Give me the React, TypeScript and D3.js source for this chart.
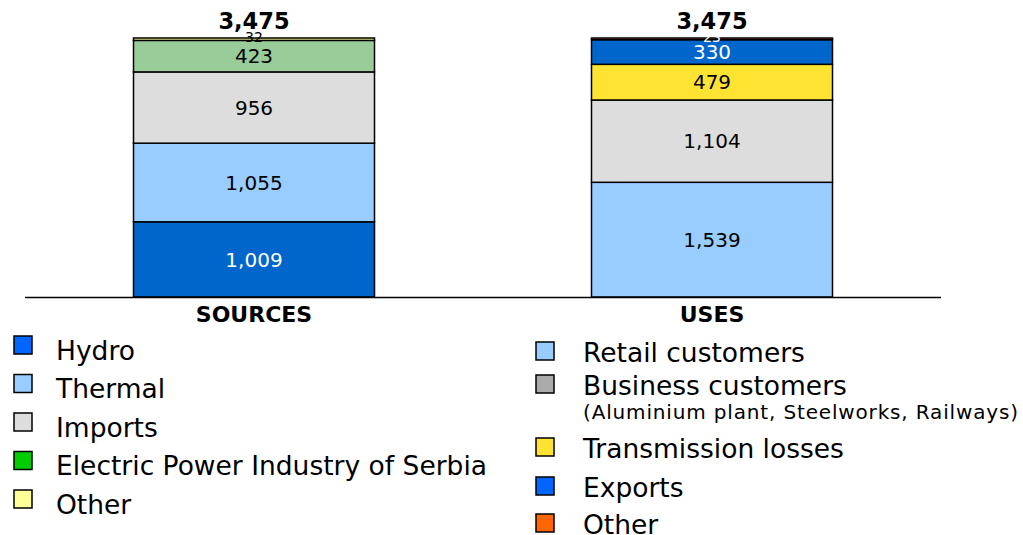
import React from 'react';
import * as d3 from 'd3';

// stacked bars, bottom to top
const categories = ['SOURCES', 'USES'];

const sourceNames = ['Hydro', 'Thermal', 'Imports', 'Electric Power Industry of Serbia', 'Other'];
const sourceValues = [1009, 1055, 956, 423, 32];
const sourceBarColors = ['#0066CC', '#99CCFF', '#DDDDDD', '#99CC99', '#FFFF99'];
const sourceLegendColors = ['#0066FF', '#99CCFF', '#DDDDDD', '#00CC00', '#FFFF99'];
const sourceLabelColors = ['#fff', '#000', '#000', '#000', '#000'];

const useNames = ['Retail customers', 'Business customers', 'Transmission losses', 'Exports', 'Other'];
const useValues = [1539, 1104, 479, 330, 23];
const useBarColors = ['#99CCFF', '#DDDDDD', '#FFE333', '#0066CC', '#FF6600'];
const useLegendColors = ['#99CCFF', '#AAAAAA', '#FFE333', '#0066FF', '#FF6600'];
const useLabelColors = ['#000', '#000', '#000', '#fff', '#fff'];

const totals = [3475, 3475];

const W = 1023;
const H = 535;
const FONT = 'DejaVu Sans, Verdana, sans-serif';

const fmt = d3.format(',');

const App = () => {
  const x = d3.scaleBand().domain(categories).range([25, 941]).padding(0);
  const y = d3.scaleLinear().domain([0, 3475]).range([297, 38]);
  const barW = 241;

  const stacks = [
    { values: sourceValues, fills: sourceBarColors, labels: sourceLabelColors },
    { values: useValues, fills: useBarColors, labels: useLabelColors },
  ];

  return (
    <svg width={W} height={H} style={{ position: 'absolute', left: 0, top: 0 }} fontFamily={FONT}>
      {stacks.map((s, i) => {
        const cx = (x(categories[i]) as number) + x.bandwidth() / 2;
        const cum = d3.cumsum(s.values);
        return (
          <g key={categories[i]}>
            {s.values.map((v, j) => {
              const y0 = y(cum[j] - v);
              const y1 = y(cum[j]);
              const small = v < 100;
              return (
                <g key={j}>
                  <rect x={cx - barW / 2} y={y1} width={barW} height={y0 - y1}
                    fill={s.fills[j]} stroke="#000" strokeWidth={1.5} />
                  <text x={cx} y={small ? y1 - 1 : (y0 + y1) / 2} dy="0.36em" textAnchor="middle"
                    fontSize={small ? 14 : 20} fill={s.labels[j]}>{fmt(v)}</text>
                </g>
              );
            })}
            <text x={cx} y={29} textAnchor="middle" fontSize={22.5}
              fontWeight="bold" fill="#000">{fmt(totals[i])}</text>
            <text x={cx} y={322} textAnchor="middle" fontSize={22} fontWeight="bold"
              fill="#000">{categories[i]}</text>
          </g>
        );
      })}
      <line x1={25} x2={941} y1={297.5} y2={297.5} stroke="#000" strokeWidth={1.5} />

      {/* legend: sources */}
      {sourceNames.map((n, j) => {
        const ty = 350 + j * 38.5;
        return (
          <g key={n}>
            <rect x={14} y={ty - 14} width={18} height={18} fill={sourceLegendColors[j]}
              stroke="#000" strokeWidth={1.5} />
            <text x={56} y={ty} dy="0.36em" fontSize={26.5} fill="#000">{n}</text>
          </g>
        );
      })}

      {/* legend: uses */}
      {useNames.map((n, j) => {
        const rows = [352, 385, 448, 487, 524];
        const ty = rows[j];
        return (
          <g key={n}>
            <rect x={536} y={ty - 10} width={18} height={18} fill={useLegendColors[j]}
              stroke="#000" strokeWidth={1.5} />
            <text x={583} y={ty} dy="0.36em" fontSize={26.5} fill="#000">{n}</text>
          </g>
        );
      })}
      <text x={583} y={412} dy="0.36em" fontSize={20} textLength={435} fill="#000">
        (Aluminium plant, Steelworks, Railways)
      </text>
    </svg>
  );
};

export default App;
